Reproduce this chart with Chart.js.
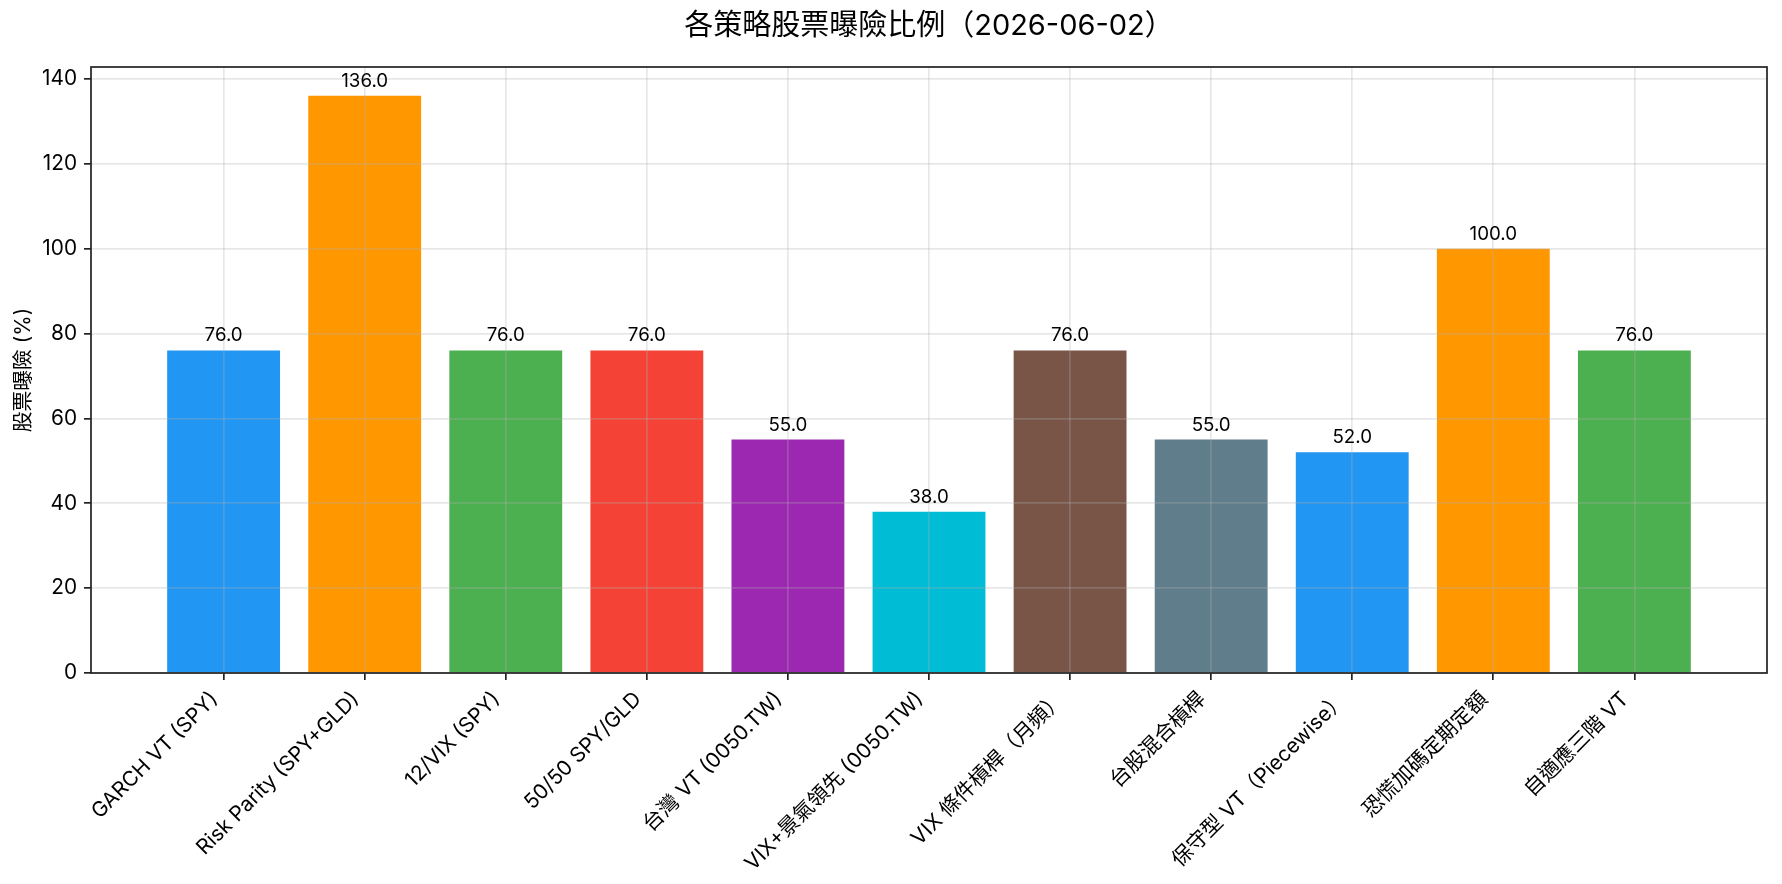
<!DOCTYPE html>
<html>
<head>
<meta charset="utf-8">
<script src="https://cdn.jsdelivr.net/npm/chart.js@4/dist/chart.umd.min.js"></script>
<style>
  html, body { margin: 0; padding: 0; background: #fff; }
  canvas { display: block; }
</style>
</head>
<body>
<canvas id="exposureChart" width="1782" height="884"></canvas>
<script>
/* =========================================================
   DATA
========================================================= */

const strategies = [
  "GARCH VT (SPY)",
  "Risk Parity (SPY+GLD)",
  "12/VIX (SPY)",
  "50/50 SPY/GLD",
  "台灣 VT (0050.TW)",
  "VIX+景氣領先 (0050.TW)",
  "VIX 條件槓桿（月頻）",
  "台股混合槓桿",
  "保守型 VT（Piecewise）",
  "恐慌加碼定期定額",
  "自適應三階 VT"
];

const exposure = [76, 136, 76, 76, 55, 38, 76, 55, 52, 100, 76];

const barColors = [
  "#2196F3", "#FF9800", "#4CAF50", "#F44336", "#9C27B0", "#00BCD4",
  "#795548", "#607D8B", "#2196F3", "#FF9800", "#4CAF50"
];

const yTicks = [0, 20, 40, 60, 80, 100, 120, 140];

const chartTitle = "各策略股票曝險比例（2026-06-02）";
const yTitle = "股票曝險 (%)";

/* =========================================================
   STYLE
========================================================= */

const FONT = 'Inter, "Noto Sans CJK TC", sans-serif';
const AXIS_COLOR = "#222";
const GRID_COLOR = "rgba(176,176,176,0.3)";

Chart.defaults.font.family = FONT;
Chart.defaults.color = "#000";

/* -------- frame + value labels -------- */

const framePlugin = {
  id: "frame",
  afterDraw(chart) {
    const { ctx, chartArea: a } = chart;
    ctx.save();
    ctx.strokeStyle = AXIS_COLOR;
    ctx.lineWidth = 1.7;
    ctx.strokeRect(a.left, a.top, a.right - a.left, a.bottom - a.top);

    // value above each bar
    const meta = chart.getDatasetMeta(0);
    ctx.fillStyle = "#000";
    ctx.font = "18.75px " + FONT;
    ctx.textAlign = "center";
    ctx.textBaseline = "alphabetic";
    meta.data.forEach((bar, i) => {
      ctx.fillText(exposure[i].toFixed(1), bar.x, bar.y - 9);
    });
    ctx.restore();
  }
};

/* =========================================================
   CHART
========================================================= */

new Chart(document.getElementById("exposureChart"), {
  type: "bar",
  data: {
    datasets: [{
      data: exposure.map((v, i) => ({ x: i, y: v })),
      backgroundColor: barColors,
      borderWidth: 0,
      barPercentage: 0.8,
      categoryPercentage: 1.0
    }]
  },
  options: {
    responsive: false,
    animation: false,
    devicePixelRatio: 1,
    layout: { padding: { left: 0, right: 15, top: 0, bottom: 0 } },
    plugins: {
      legend: { display: false },
      tooltip: { enabled: false },
      title: {
        display: true,
        text: chartTitle,
        fullSize: false,
        color: "#000",
        font: { size: 29, weight: "normal", family: FONT },
        padding: { top: 8.6, bottom: 23.6 }
      }
    },
    scales: {
      x: {
        type: "linear",
        offset: false,
        min: -0.94,
        max: 10.94,
        afterBuildTicks: (axis) => {
          axis.ticks = strategies.map((_, i) => ({ value: i }));
        },
        afterFit: (axis) => { axis.height = 211; },
        grid: {
          z: 1,
          offset: false,
          color: GRID_COLOR,
          lineWidth: 1.7,
          drawTicks: true,
          tickLength: 7,
          tickColor: AXIS_COLOR,
          tickWidth: 1.7
        },
        border: { display: false },
        ticks: {
          autoSkip: false,
          minRotation: 45,
          maxRotation: 45,
          padding: 7,
          labelOffset: -9,
          font: { size: 20.8 },
          callback: (value) => strategies[value]
        }
      },
      y: {
        min: 0,
        max: 142.8,
        afterBuildTicks: (axis) => {
          axis.ticks = yTicks.map((v) => ({ value: v }));
        },
        afterFit: (axis) => { axis.width = 91; },
        grid: {
          z: 1,
          color: GRID_COLOR,
          lineWidth: 1.7,
          drawTicks: true,
          tickLength: 7,
          tickColor: AXIS_COLOR,
          tickWidth: 1.7
        },
        border: { display: false },
        ticks: {
          padding: 7,
          font: { size: 20.8 }
        },
        title: {
          display: true,
          text: yTitle,
          color: "#000",
          font: { size: 20.8 },
          padding: { top: 11, bottom: 0 }
        }
      }
    }
  },
  plugins: [framePlugin]
});
</script>
</body>
</html>
